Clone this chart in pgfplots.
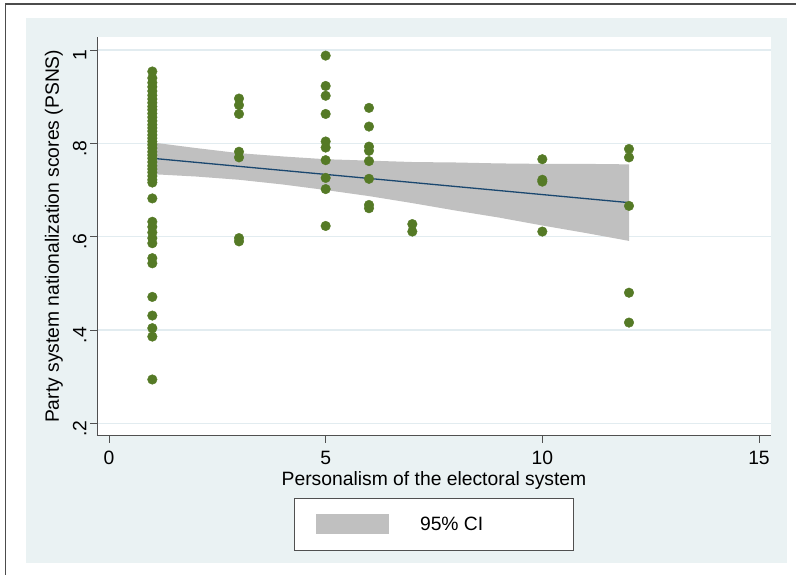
\documentclass[border=0pt]{standalone}
\usepackage{pgfplots}
\pgfplotsset{compat=1.18}
\usepackage{fontspec}
\setmainfont{Liberation Sans}
\definecolor{bgblue}{RGB}{234,242,243}
\definecolor{gridc}{RGB}{226,236,240}
\definecolor{ptgreen}{RGB}{85,122,38}
\definecolor{fitnavy}{RGB}{26,71,111}
\definecolor{cigray}{RGB}{192,192,192}
\definecolor{axgray}{RGB}{80,80,80}

\pgfplotstableread{
x y
1 0.954
1 0.940
1 0.930
1 0.921
1 0.912
1 0.903
1 0.895
1 0.887
1 0.879
1 0.872
1 0.864
1 0.856
1 0.848
1 0.840
1 0.833
1 0.826
1 0.818
1 0.811
1 0.804
1 0.797
1 0.790
1 0.782
1 0.775
1 0.768
1 0.760
1 0.752
1 0.745
1 0.738
1 0.730
1 0.722
1 0.716
1 0.682
1 0.632
1 0.621
1 0.609
1 0.597
1 0.586
1 0.554
1 0.543
1 0.471
1 0.431
1 0.404
1 0.386
1 0.294
3 0.896
3 0.882
3 0.863
3 0.782
3 0.770
3 0.597
3 0.590
5 0.988
5 0.923
5 0.902
5 0.863
5 0.804
5 0.791
5 0.764
5 0.726
5 0.702
5 0.623
6 0.876
6 0.836
6 0.793
6 0.784
6 0.762
6 0.724
6 0.668
6 0.661
7 0.627
7 0.611
10 0.766
10 0.722
10 0.718
10 0.611
12 0.788
12 0.770
12 0.666
12 0.480
12 0.416
}\scatterdata

\pgfplotstableread{
x fit
1 0.7680
12 0.6730
}\fitdata

\begin{document}
\begin{tikzpicture}[x=1pt,y=1pt]
\path[use as bounding box] (0,0) rectangle (796,575);
\fill[bgblue] (26,12.3) rectangle (786.7,557);
\draw[line width=1.5pt, black!70] (5.5,-2) -- (5.5,571) -- (798,571);
\begin{axis}[
  at={(97pt,139.3pt)}, anchor=south west,
  scale only axis, width=674pt, height=398.7pt,
  xmin=-0.277, xmax=15.277, ymin=0.1736, ymax=1.0279,
  axis background/.style={fill=white},
  axis x line*=bottom, axis y line*=left,
  axis line style={axgray, line width=0.8pt},
  xtick={0,5,10,15},
  ytick={0.2,0.4,0.6,0.8,1},
  yticklabels={.2,.4,.6,.8,1},
  tick align=outside, major tick length=7pt,
  tick style={axgray, line width=0.8pt},
  ymajorgrids,
  grid style={gridc, line width=1.2pt},
  /pgf/number format/assume math mode=true,
  tick label style={font=\fontsize{19.3}{23}\selectfont},
  xticklabel style={yshift=-5pt},
  yticklabel style={rotate=90, anchor=south, xshift=-5pt},
  label style={font=\fontsize{19.3}{23}\selectfont},
  xlabel={Personalism of the electoral system},
  ylabel={Party system nationalization scores (PSNS)},
  xlabel style={at={(axis description cs:0.5,-0.1115)}, anchor=center},
  ylabel style={at={(axis description cs:-0.0638,0.5)}, anchor=center},
  legend style={at={(axis description cs:0.4993,-0.1563)}, anchor=north,
    draw=axgray, fill=white, line width=0.8pt, inner sep=0pt,
    nodes={inner sep=0pt}, column sep=0pt,
    font=\fontsize{19.3}{23}\selectfont},
]
\addplot[fill=cigray, draw=none,
  legend image code/.code={\path[fill=none,draw=none] (-22pt,-26pt) rectangle (73pt,26pt);
    \fill[cigray] (0pt,-10pt) rectangle (73pt,10pt);}]
  coordinates {
  (1,0.802) (2,0.790) (3,0.779) (4,0.772) (5,0.766) (6,0.763)
  (7,0.760) (8,0.759) (9,0.757) (10,0.756) (11,0.756) (12,0.755)
  (12,0.591) (11,0.608) (10,0.624) (9,0.641) (8,0.656) (7,0.672)
  (6,0.687) (5,0.700) (4,0.712) (3,0.722) (2,0.729) (1,0.734)
  } -- cycle;
\addlegendentry{\makebox[184pt][l]{\hspace{31pt}95\% CI}}
\addplot[fitnavy, line width=1.3pt, forget plot] table[x=x, y=fit] {\fitdata};
\addplot[only marks, mark=*, mark size=4.8pt,
  mark options={fill=ptgreen, draw=ptgreen}, forget plot]
  table[x=x, y=y] {\scatterdata};
\end{axis}
\end{tikzpicture}
\end{document}
